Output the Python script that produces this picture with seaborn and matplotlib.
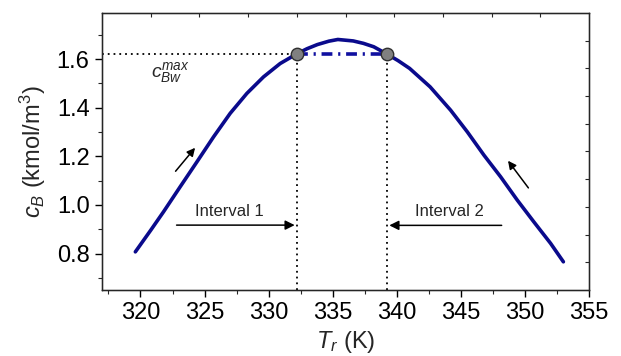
import matplotlib
matplotlib.use("Agg")
import matplotlib.pyplot as plt
import seaborn as sns
import pandas as pd
from matplotlib.ticker import MultipleLocator

# data
T_r = [319.6, 320.8, 321.8, 323.1, 324.4, 325.7, 327.0, 328.3, 329.6, 330.9,
       332.2, 333.0, 333.8, 334.7, 335.4, 336.6, 337.4, 338.2, 339.2, 340.1,
       341.0, 342.6, 344.2, 345.5, 346.8, 348.1, 349.4, 350.7, 352.0, 353.0]
c_B = [0.807, 0.896, 0.972, 1.075, 1.177, 1.280, 1.377, 1.459, 1.527, 1.582,
       1.622, 1.643, 1.660, 1.674, 1.681, 1.675, 1.665, 1.651, 1.622, 1.594,
       1.562, 1.486, 1.390, 1.301, 1.205, 1.116, 1.020, 0.930, 0.842, 0.766]
T_points = [332.25, 339.2]
c_points = [1.622, 1.622]
interval_labels = ["Interval 1", "Interval 2"]

sns.set_style("ticks")
plt.rcParams['font.family'] = ['Liberation Sans', 'DejaVu Sans']
plt.rcParams['mathtext.fontset'] = 'custom'
plt.rcParams['mathtext.rm'] = 'Liberation Sans'
plt.rcParams['mathtext.it'] = 'Liberation Sans:italic'

fig = plt.figure(figsize=(6.21, 3.56), dpi=100)
ax = fig.add_axes([0.1643, 0.1854, 0.7842, 0.7781])

xmin, xmax, ymin, ymax = 317, 355, 0.65, 1.79
ax.set_xlim(xmin, xmax)
ax.set_ylim(ymin, ymax)

df = pd.DataFrame({"T": T_r, "c": c_B})
sns.lineplot(data=df, x="T", y="c", sort=False, color="#0a0a8c", lw=2.6, ax=ax, zorder=3)

# dotted guide lines
ax.plot([xmin, T_points[0]], [c_points[0], c_points[0]], color="black", ls=(0, (1, 2.2)), lw=1.3, zorder=2)
for tp, cp in zip(T_points, c_points):
    ax.plot([tp, tp], [ymin, cp], color="black", ls=(0, (1, 2.2)), lw=1.3, zorder=2)

# dash-dot connection
ax.plot(T_points, c_points, color="#1010a0", lw=2.6, ls=(0, (3, 1.6, 0.6, 1.6)), zorder=3)
sns.scatterplot(x=T_points, y=c_points, ax=ax, s=80, color="#808080",
                edgecolor="#303030", linewidth=1.0, zorder=5)

# arrows along the curve
ax.annotate("", xy=(324.4, 1.244), xytext=(322.6, 1.130),
            arrowprops=dict(arrowstyle="-|>", color="black", lw=1.1, mutation_scale=12))
ax.annotate("", xy=(348.55, 1.191), xytext=(350.4, 1.061),
            arrowprops=dict(arrowstyle="-|>", color="black", lw=1.1, mutation_scale=12))

# interval arrows
ax.annotate("", xy=(T_points[0], 0.917), xytext=(322.6, 0.917),
            arrowprops=dict(arrowstyle="-|>", color="black", lw=1.1, mutation_scale=14))
ax.annotate("", xy=(T_points[1], 0.916), xytext=(348.4, 0.916),
            arrowprops=dict(arrowstyle="-|>", color="black", lw=1.1, mutation_scale=14))
ax.text(326.9, 0.975, interval_labels[0], ha="center", va="center", fontsize=12)
ax.text(344.1, 0.975, interval_labels[1], ha="center", va="center", fontsize=12)

ax.text(320.8, 1.545, r"$c_{Bw}^{max}$", ha="left", va="center", fontsize=14)

# ticks
ax.xaxis.set_major_locator(MultipleLocator(5))
ax.xaxis.set_minor_locator(MultipleLocator(2.5))
ax.yaxis.set_major_locator(MultipleLocator(0.2))
ax.yaxis.set_minor_locator(MultipleLocator(0.1))
ax.tick_params(axis="both", which="major", direction="out", length=5, width=1,
               labelsize=17, colors="black", pad=4)
ax.tick_params(axis="both", which="minor", direction="out", length=3, width=0.8)
for s in ax.spines.values():
    s.set_color("#222222")
    s.set_linewidth(1.0)

# top/right inward ticks
axt = ax.twiny()
axt.set_xlim(0, 1)
axt.set_xticks([i / 10 for i in range(1, 10)])
axt.tick_params(axis="x", direction="in", length=3, labeltop=False, top=True)
axr = ax.twinx()
axr.set_ylim(0, 1)
axr.set_yticks([i / 10 for i in range(1, 10)])
axr.tick_params(axis="y", direction="in", length=3, labelright=False, right=True)

ax.set_xlabel(r"$T_r$ (K)", fontsize=17, labelpad=3)
ax.set_ylabel(r"$c_B$ (kmol/m$^3$)", fontsize=17, labelpad=6)

fig.savefig("out.png", dpi=100)
